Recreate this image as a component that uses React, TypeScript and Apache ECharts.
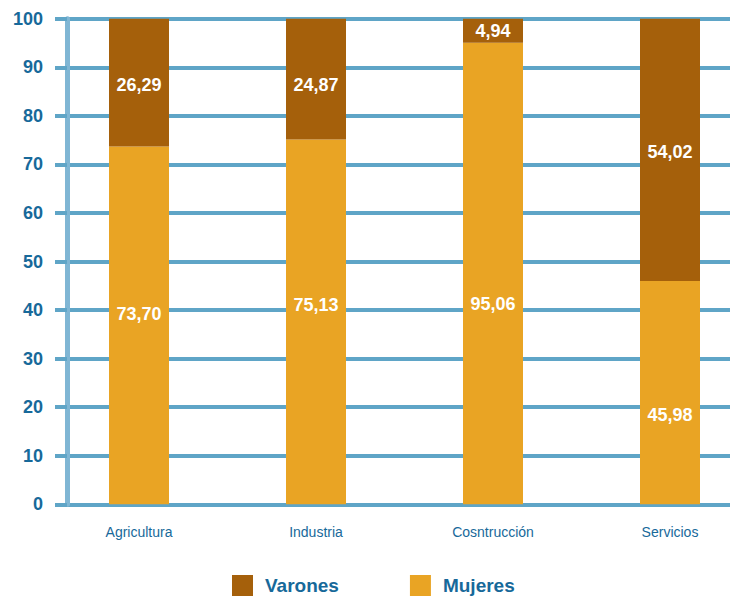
import React, { useEffect, useRef } from "react";
import * as echarts from "echarts";

const categories = ["Agricultura", "Industria", "Cosntrucción", "Servicios"];
const mujeres = [73.7, 75.13, 95.06, 45.98];
const varones = [26.29, 24.87, 4.94, 54.02];
const yTicks = [0, 10, 20, 30, 40, 50, 60, 70, 80, 90, 100];

const mujeresLabelShift = [-11, -17, 31, 22];
const varonesLabelShift = [2, 6, 0, 2];

const fmt = (v: number) => v.toFixed(2).replace(".", ",");

const GRID = "#5FA5C7";
const AXIS = "#80B6D4";
const TEXT = "#17699A";
const BROWN = "#A5600B";
const ORANGE = "#E9A424";
const FONT = "Liberation Sans, Arial, sans-serif";

export default function App() {
  const ref = useRef<HTMLDivElement>(null);
  useEffect(() => {
    if (!ref.current) return;
    const chart = echarts.init(ref.current, undefined, { renderer: "svg" });
    const labelBase = {
      show: true,
      position: "inside" as const,
      color: "#ffffff",
      fontWeight: "bold" as const,
      fontSize: 18,
      fontFamily: FONT,
      formatter: (p: any) => fmt(p.value),
    };
    const yMin = yTicks[0];
    const yMax = yTicks[yTicks.length - 1];
    chart.setOption({
      animation: false,
      grid: [
        { left: 67, right: 0, top: 18.7, height: 485.6 },
        { left: 139, width: 531, top: 18.7, height: 485.6 },
      ],
      xAxis: [
        { type: "category", gridIndex: 0, data: categories, show: false },
        {
          type: "category",
          gridIndex: 1,
          data: categories,
          boundaryGap: false,
          axisLine: { show: false },
          axisTick: { show: false },
          axisLabel: { color: TEXT, fontSize: 14, margin: 21, fontFamily: FONT },
        },
      ],
      yAxis: [
        {
          type: "value",
          gridIndex: 0,
          min: yMin,
          max: yMax,
          interval: 10,
          axisLine: { show: true, lineStyle: { color: AXIS, width: 5 } },
          axisTick: { show: true, length: 12, lineStyle: { color: GRID, width: 4 } },
          splitLine: { show: true, lineStyle: { color: GRID, width: 4 } },
          axisLabel: { color: TEXT, fontSize: 18, fontWeight: "bold", margin: 24, fontFamily: FONT },
        },
        { type: "value", gridIndex: 1, min: yMin, max: yMax, show: false, splitLine: { show: false } },
      ],
      legend: {
        data: ["Varones", "Mujeres"],
        left: 232,
        top: 575,
        padding: 0,
        itemWidth: 21,
        itemHeight: 21,
        itemGap: 71,
        icon: "rect",
        textStyle: {
          color: TEXT,
          fontSize: 19,
          fontWeight: "bold",
          fontFamily: FONT,
          padding: [0, 0, 0, 7],
        },
      },
      series: [
        {
          name: "Mujeres",
          type: "bar",
          xAxisIndex: 1,
          yAxisIndex: 1,
          stack: "total",
          barWidth: 60,
          clip: false,
          itemStyle: { color: ORANGE },
          data: mujeres.map((v, i) => ({
            value: v,
            label: { ...labelBase, offset: [0, mujeresLabelShift[i]] },
          })),
        },
        {
          name: "Varones",
          type: "bar",
          xAxisIndex: 1,
          yAxisIndex: 1,
          stack: "total",
          barWidth: 60,
          clip: false,
          itemStyle: { color: BROWN },
          data: varones.map((v, i) => ({
            value: v,
            label: { ...labelBase, offset: [0, varonesLabelShift[i]] },
          })),
        },
      ],
    });
    return () => chart.dispose();
  }, []);
  return (
    <div
      ref={ref}
      style={{ position: "fixed", left: 0, top: 0, width: 730, height: 596, background: "#fff" }}
    />
  );
}
